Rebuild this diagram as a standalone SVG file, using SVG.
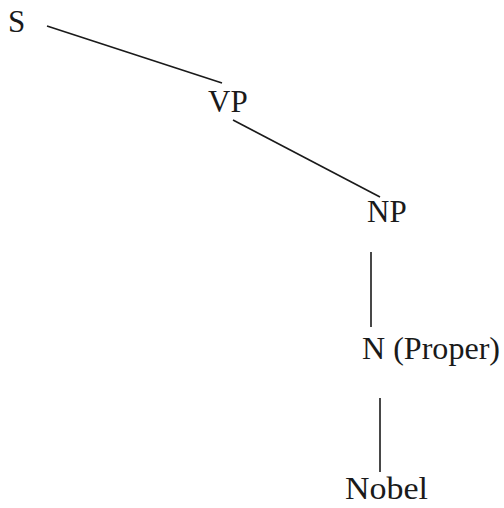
<svg xmlns="http://www.w3.org/2000/svg" width="504" height="508" viewBox="0 0 504 508">
<style>
text{font-family:"Liberation Serif","Times New Roman",serif;font-size:31px;fill:#1a1a1a}
line{stroke:#1a1a1a;stroke-width:1.6}
</style>
<rect width="504" height="508" fill="#ffffff"/>
<g id="connectors">
<line x1="47" y1="26" x2="222" y2="83"/>
<line x1="233" y1="120" x2="380" y2="197"/>
<line x1="371" y1="252" x2="371" y2="327"/>
<line x1="380" y1="398" x2="380" y2="472"/>
</g>
<g id="S"><text x="8" y="32">S</text></g>
<g id="VP"><text x="208" y="112">VP</text></g>
<g id="NP"><text x="367" y="222">NP</text></g>
<g id="N"><text x="362" y="359" textLength="138" lengthAdjust="spacingAndGlyphs">N (Proper)</text></g>
<g id="Nobel"><text x="345" y="499" textLength="83" lengthAdjust="spacingAndGlyphs">Nobel</text></g>
</svg>
